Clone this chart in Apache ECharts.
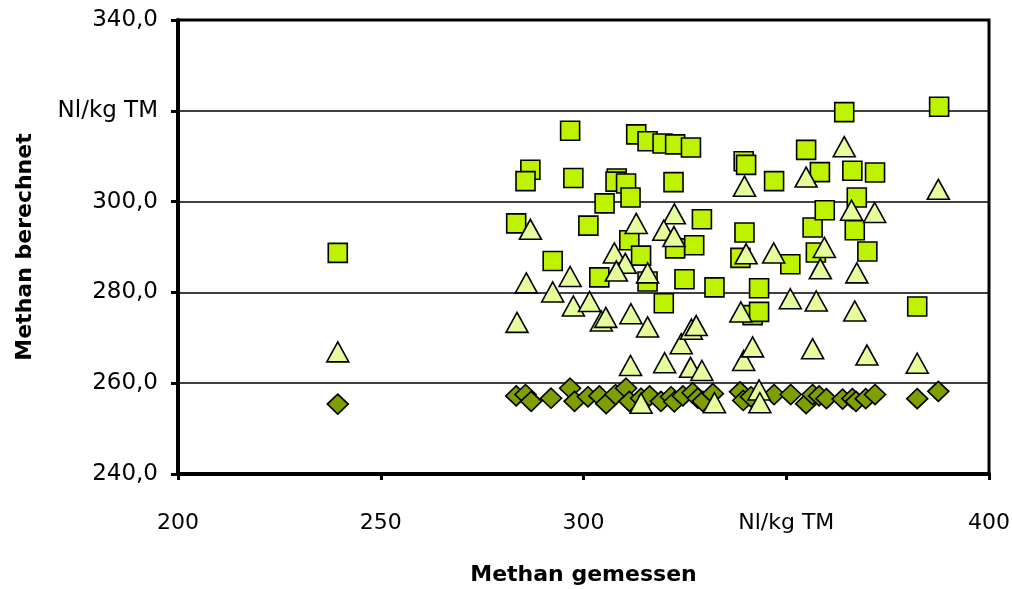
<!DOCTYPE html>
<html>
<head>
<meta charset="utf-8">
<script src="https://cdn.jsdelivr.net/npm/echarts@6/dist/echarts.min.js"></script>
<style>
  html, body { margin: 0; padding: 0; background: #ffffff; }
  #chart { width: 1012px; height: 589px; }
</style>
</head>
<body>
<div id="chart"></div>
<script>
// Methan: gemessen (x) gegen berechnet (y), drei Berechnungsansätze

// Quadrate
const squareX = [239.4, 283.4, 286.9, 285.7, 292.4, 296.7, 297.5, 301.2, 303.9, 305.2,
  308.2, 307.9, 310.5, 311.6, 313.0, 315.8, 319.5, 322.6, 326.5, 322.2,
  311.3, 314.2, 322.6, 327.3, 315.8, 324.9, 332.3, 319.8, 329.2, 339.5,
  340.1, 347.0, 339.7, 338.7, 343.3, 341.7, 343.3, 351.0, 354.9, 356.5,
  357.3, 358.3, 359.5, 364.3, 366.3, 367.4, 366.9, 370.0, 371.9, 382.3, 387.7];
const squareY = [288.7, 295.2, 307.0, 304.5, 286.9, 315.6, 305.2, 294.7, 283.3, 299.6,
  305.1, 304.4, 304.0, 300.9, 314.8, 313.3, 312.8, 312.6, 311.9, 304.3,
  291.5, 288.1, 289.7, 290.4, 282.4, 282.9, 281.1, 277.6, 296.1, 308.9,
  308.1, 304.5, 293.2, 287.6, 280.9, 275.0, 275.7, 286.2, 311.4, 294.3,
  288.8, 306.5, 298.1, 319.7, 306.8, 300.9, 293.7, 289.0, 306.4, 276.9, 320.9];

// Dreiecke
const triangleX = [239.4, 283.6, 285.9, 286.9, 292.4, 296.7, 297.5, 301.5, 304.4, 305.5,
  307.6, 310.3, 308.1, 313.0, 315.8, 311.7, 315.8, 311.6, 314.2, 320.0,
  322.4, 319.8, 322.3, 324.1, 326.4, 326.6, 327.8, 329.2, 332.3, 338.8,
  339.5, 339.7, 340.1, 341.7, 343.3, 343.5, 346.9, 351.0, 354.9, 356.5,
  357.4, 358.4, 359.4, 364.3, 366.1, 366.9, 367.4, 369.9, 371.8, 382.3, 387.5];
const triangleY = [266.9, 273.4, 282.1, 293.9, 280.1, 283.5, 277.0, 278.0, 273.7, 274.5,
  288.7, 286.4, 284.7, 295.2, 284.3, 275.3, 272.4, 263.9, 255.6, 264.5,
  297.3, 293.7, 292.3, 268.7, 263.5, 271.9, 272.7, 262.8, 255.7, 275.7,
  265.0, 303.4, 288.5, 268.0, 258.5, 255.7, 288.7, 278.6, 305.4, 267.6,
  278.1, 285.2, 289.9, 312.1, 298.1, 275.9, 284.3, 266.2, 297.6, 264.4, 302.7];

// Rauten
const diamondX = [239.4, 283.4, 285.7, 287.1, 292.0, 296.7, 297.8, 301.1, 303.9, 305.6,
  307.9, 310.5, 311.3, 314.2, 316.3, 319.1, 321.6, 322.4, 324.5, 326.9,
  328.2, 329.4, 331.9, 338.6, 339.4, 341.3, 347.0, 351.1, 354.9, 356.5,
  358.1, 359.9, 363.9, 366.3, 367.2, 369.6, 371.9, 382.3, 387.5];
const diamondY = [255.4, 257.2, 257.5, 256.0, 256.7, 258.9, 256.0, 257.0, 257.2, 255.5,
  257.5, 258.9, 256.0, 256.7, 257.2, 256.0, 257.0, 255.9, 257.2, 257.9,
  256.7, 256.0, 257.7, 258.1, 256.2, 257.0, 257.5, 257.5, 255.5, 257.5,
  257.2, 256.6, 256.5, 256.6, 256.0, 256.6, 257.5, 256.6, 258.2];

// Achsenbeschriftungen
const xTickLabels = { 200: '200', 250: '250', 300: '300', 350: 'Nl/kg TM', 400: '400' };
const yTickLabels = { 240: '240,0', 260: '260,0', 280: '280,0', 300: '300,0', 320: 'Nl/kg TM', 340: '340,0' };
const xTitle = 'Methan gemessen';
const yTitle = 'Methan berechnet';

const FONT = '"DejaVu Sans", "Liberation Sans", Arial, sans-serif';

function pairs(xs, ys) {
  return xs.map((x, i) => [x, ys[i]]);
}

const chart = echarts.init(document.getElementById('chart'), null, { renderer: 'canvas' });

chart.setOption({
  animation: false,
  backgroundColor: '#ffffff',
  grid: {
    left: 178, right: 23, top: 20, bottom: 115,
    outerBoundsMode: 'none', containLabel: false,
    show: true, borderColor: '#000000', borderWidth: 3, backgroundColor: 'transparent'
  },
  xAxis: {
    type: 'value', min: 200, max: 400, interval: 50,
    name: xTitle, nameLocation: 'middle', nameGap: 90,
    nameTextStyle: { fontFamily: FONT, fontSize: 22, fontWeight: 'bold', color: '#000' },
    axisLine: { show: true, onZero: false, lineStyle: { color: '#000', width: 4 } },
    axisTick: { show: true, length: 6, lineStyle: { color: '#000', width: 3 } },
    axisLabel: {
      margin: 38, fontFamily: FONT, fontSize: 22, color: '#000',
      formatter: v => xTickLabels[v] ?? String(v)
    },
    splitLine: { show: false }
  },
  yAxis: {
    type: 'value', min: 240, max: 340, interval: 20,
    name: yTitle, nameLocation: 'middle', nameGap: 142, nameRotate: 90,
    nameTextStyle: { fontFamily: FONT, fontSize: 22, fontWeight: 'bold', color: '#000' },
    axisLine: { show: true, onZero: false, lineStyle: { color: '#000', width: 4 } },
    axisTick: { show: true, length: 7, lineStyle: { color: '#000', width: 3 } },
    axisLabel: {
      margin: 20, fontFamily: FONT, fontSize: 23, color: '#000',
      formatter: v => yTickLabels[v] ?? String(v)
    },
    splitLine: { show: true, lineStyle: { color: '#000', width: 1.5 } }
  },
  series: [
    {
      name: 'Quadrat', type: 'scatter', symbol: 'rect', symbolSize: 19,
      data: pairs(squareX, squareY),
      itemStyle: { color: '#bdf300', borderColor: '#000', borderWidth: 1.6, opacity: 1 }
    },
    {
      name: 'Raute', type: 'scatter', symbol: 'diamond', symbolSize: [21, 20],
      data: pairs(diamondX, diamondY),
      itemStyle: { color: '#7f9e00', borderColor: '#000', borderWidth: 1.6, opacity: 1 }
    },
    {
      name: 'Dreieck', type: 'scatter', symbol: 'triangle', symbolSize: [22, 20],
      data: pairs(triangleX, triangleY),
      itemStyle: { color: '#e6fd9c', borderColor: '#000', borderWidth: 1.6, opacity: 1 }
    }
  ]
});
</script>
</body>
</html>
